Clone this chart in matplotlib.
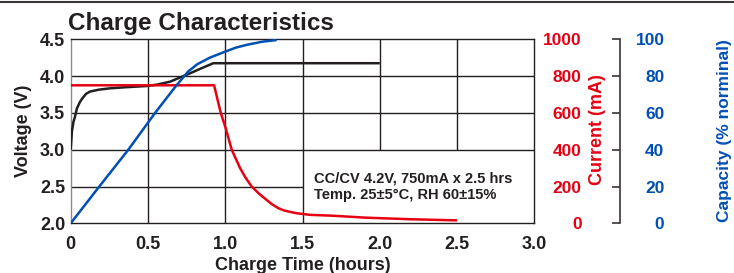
import matplotlib
matplotlib.use("Agg")
import matplotlib.pyplot as plt
from matplotlib.lines import Line2D

plt.rcParams['font.family'] = ['Liberation Sans', 'DejaVu Sans']
plt.rcParams['font.weight'] = 'bold'

DARK = '#231f20'
RED = '#e60012'
BLUE = '#0050b4'

# ---------------- data ----------------
time_v = [0, 0.002, 0.008, 0.018, 0.028, 0.04, 0.06, 0.08, 0.1, 0.125, 0.18,
          0.254, 0.35, 0.49, 0.56, 0.643, 0.7, 0.772, 0.85, 0.923, 2.0]
voltage = [3.0, 3.06, 3.25, 3.38, 3.45, 3.56, 3.65, 3.71, 3.76, 3.79, 3.815,
           3.834, 3.848, 3.865, 3.885, 3.924, 3.975, 4.038, 4.11, 4.175, 4.175]

time_i = [0, 0.928, 0.971, 1.0, 1.042, 1.096, 1.13, 1.171, 1.22, 1.268, 1.3,
          1.344, 1.38, 1.42, 1.46, 1.549, 1.7, 1.9, 2.2, 2.5]
current = [750, 750, 600, 525, 400, 300, 250, 200, 160, 127, 105,
           82, 70, 62, 55, 46, 41, 31, 22, 16]

time_c = [0, 0.185, 0.373, 0.546, 0.62, 0.68, 0.73, 0.76, 0.82, 0.9, 1.0,
          1.07, 1.14, 1.24, 1.333]
capacity = [0, 20, 40, 60, 68, 74.5, 79.5, 82.5, 86.5, 90, 93.3,
            95.5, 97, 98.7, 99.6]

x_ticks = [0, 0.5, 1.0, 1.5, 2.0, 2.5, 3.0]
x_labels = ['0', '0.5', '1.0', '1.5', '2.0', '2.5', '3.0']
v_ticks = [2.0, 2.5, 3.0, 3.5, 4.0, 4.5]
i_ticks = [0, 200, 400, 600, 800, 1000]
c_ticks = [0, 20, 40, 60, 80, 100]

W, H = 734, 273
fig = plt.figure(figsize=(W / 100, H / 100), dpi=100)
x0, x1, y0, y1 = 70.7, 534.3, 39.3, 223.3
ax = fig.add_axes([x0 / W, 1 - y1 / H, (x1 - x0) / W, (y1 - y0) / H])
ax.set_xlim(0, 3.0)
ax.set_ylim(2.0, 4.5)

# grid (with empty box area for note)
gl = dict(color=DARK, lw=1.0, zorder=1)
for yv in [3.0, 3.5, 4.0]:
    ax.hlines(yv, 0, 3.0, **gl)
ax.hlines(2.5, 0, 1.5, **gl)
for xv in [0.5, 1.0, 1.5]:
    ax.vlines(xv, 2.0, 4.5, **gl)
for xv in [2.0, 2.5]:
    ax.vlines(xv, 3.0, 4.5, **gl)

for s in ['top', 'bottom', 'right']:
    ax.spines[s].set_color(DARK)
    ax.spines[s].set_linewidth(1.0)
ax.spines['left'].set_color('#8a8a8a')
ax.spines['left'].set_linewidth(1.0)

ax.set_xticks(x_ticks)
ax.set_xticklabels(x_labels)
ax.set_yticks(v_ticks)
ax.set_yticklabels([f'{v:.1f}' for v in v_ticks])
ax.tick_params(length=0, labelsize=13, colors=DARK, pad=4)
ax.tick_params(axis='x', pad=9.5)
for lab in ax.get_xticklabels() + ax.get_yticklabels():
    lab.set_fontweight('bold')

ax.set_xlabel('Charge Time (hours)', fontsize=13, fontweight='bold', color=DARK, labelpad=2.5)
ax.set_ylabel('Voltage (V)', fontsize=13, fontweight='bold', color=DARK, labelpad=6)

# current axis (labels only)
ax2 = ax.twinx()
ax2.set_ylim(0, 1000)
ax2.set_yticks(i_ticks)
ax2.set_yticklabels([str(v) for v in i_ticks])
for s in ax2.spines.values():
    s.set_visible(False)
ax2.tick_params(axis='y', length=0, labelsize=12.5, labelcolor=RED, pad=34)
for lab in ax2.get_yticklabels():
    lab.set_horizontalalignment('right')
    lab.set_fontweight('bold')

# capacity axis
ax3 = ax.twinx()
ax3.set_ylim(0, 100)
for s in ['top', 'bottom', 'left']:
    ax3.spines[s].set_visible(False)
ax3.spines['right'].set_position(('axes', (620 - x0) / (x1 - x0)))
ax3.spines['right'].set_color('#3a3536')
ax3.spines['right'].set_linewidth(1.2)
ax3.set_yticks(c_ticks)
ax3.set_yticklabels([str(v) for v in c_ticks])
ax3.tick_params(axis='y', direction='in', length=6, width=1.2, color='#3a3536',
                labelsize=12.5, labelcolor=BLUE, pad=32)
for lab in ax3.get_yticklabels():
    lab.set_horizontalalignment('right')
    lab.set_fontweight('bold')

# curves
ax3.plot(time_c, capacity, color=BLUE, lw=1.8, zorder=3, solid_capstyle='butt',
         solid_joinstyle='round')
ax.plot(time_v, voltage, color=DARK, lw=1.8, zorder=3, solid_capstyle='butt',
        solid_joinstyle='round')
ax2.plot(time_i, current, color=RED, lw=1.8, zorder=4, solid_capstyle='butt',
         solid_joinstyle='round')

# labels on the right
fig.text(597 / W, 1 - 129.5 / H, 'Current (mA)', rotation=90, color=RED,
         fontsize=13, fontweight='bold', ha='center', va='center')
fig.text(725 / W, 1 - 130.5 / H, 'Capacity (% norminal)', rotation=90, color=BLUE,
         fontsize=12.5, fontweight='bold', ha='center', va='center')

# title
fig.text(68 / W, 1 - 29.5 / H, 'Charge Characteristics', fontsize=17.5,
         fontweight='bold', color=DARK, ha='left', va='baseline')

# note
ax.text(1.575, 2.5, 'CC/CV 4.2V, 750mA x 2.5 hrs\nTemp. 25\u00b15\u00b0C, RH 60\u00b115%',
        fontsize=10.5, fontweight='bold', color=DARK, ha='left', va='center',
        linespacing=1.2)

# top border line
fig.add_artist(Line2D([0, 1], [1 - 1.5 / H, 1 - 1.5 / H], transform=fig.transFigure,
                      color='#3a3536', lw=1.5))

fig.savefig('out.png', dpi=100)
